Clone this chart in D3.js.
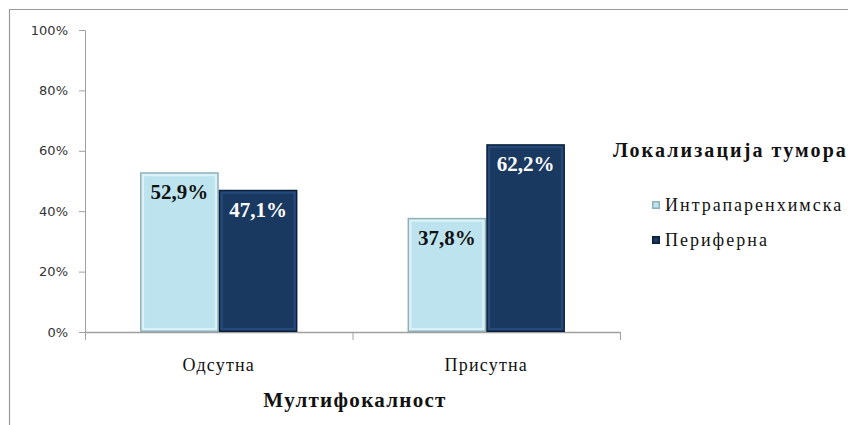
<!DOCTYPE html>
<html>
<head>
<meta charset="utf-8">
<script src="https://cdn.jsdelivr.net/npm/d3@7"></script>
<style>
  html, body { margin: 0; padding: 0; background: #fff; }
  svg { display: block; }
  .serif { font-family: "Liberation Serif", "Tinos", "DejaVu Serif", serif; }
  .sans { font-family: "DejaVu Sans", Verdana, sans-serif; }
</style>
</head>
<body>
<svg id="chart" width="848" height="425"></svg>
<script>
// Data
const categories = ["Одсутна", "Присутна"];
const seriesNames = ["Интрапаренхимска", "Периферна"];
const intraValues = [52.9, 37.8];
const periValues = [47.1, 62.2];
const yTicks = [0, 20, 40, 60, 80, 100];
const xTitle = "Мултифокалност";
const legendTitle = "Локализација тумора";

const svg = d3.select("#chart");
const W = 848, H = 425;

// Frame around the chart area
svg.append("path")
  .attr("d", `M9.5,${H} L9.5,9.5 L${W},9.5`)
  .attr("fill", "none").attr("stroke", "#9a9a9a").attr("stroke-width", 1.2);

const plot = { left: 85, right: 620, top: 30, bottom: 332 };

const x0 = d3.scaleBand().domain(categories).range([plot.left, plot.right]).paddingInner(0).paddingOuter(0);
const x1 = d3.scaleBand().domain(seriesNames).range([0, x0.bandwidth()]).paddingInner(0).paddingOuter(0.7);
const y = d3.scaleLinear().domain([0, 100]).range([plot.bottom, plot.top]);

const axisColor = "#a0a0a0";

// Y axis
const yAxis = d3.axisLeft(y).tickValues(yTicks).tickFormat(d => d + "%").tickSizeInner(6).tickSizeOuter(0).tickPadding(11);
const gy = svg.append("g").attr("transform", `translate(${plot.left},0)`).call(yAxis);
gy.attr("font-family", null).attr("font-size", null);
gy.select(".domain").attr("stroke", axisColor);
gy.selectAll(".tick line").attr("stroke", axisColor);
gy.selectAll(".tick text").attr("class", "sans").attr("fill", "#333").attr("font-size", 13);

// X axis: ticks sit between categories
const gx = svg.append("g").attr("transform", `translate(0,${plot.bottom})`);
gx.append("line").attr("x1", plot.left).attr("x2", plot.right).attr("y1", 0.5).attr("y2", 0.5).attr("stroke", axisColor).attr("stroke-width", 1.5);
const bounds = [plot.left].concat(categories.map(c => x0(c) + x0.bandwidth()));
gx.selectAll(".sep").data(bounds).join("line")
  .attr("x1", d => d + 0.5).attr("x2", d => d + 0.5).attr("y1", 0).attr("y2", 8)
  .attr("stroke", axisColor);
gx.selectAll(".cat").data(categories).join("text")
  .attr("class", "serif")
  .attr("x", d => x0(d) + x0.bandwidth() / 2)
  .attr("y", 39)
  .attr("text-anchor", "middle")
  .attr("font-size", 18).attr("letter-spacing", 1.2).attr("fill", "#111")
  .text(d => d);

// Axis title
svg.append("text").attr("class", "serif").attr("x", 355).attr("y", 407).attr("text-anchor", "middle")
  .attr("font-size", 21).attr("font-weight", "bold").attr("letter-spacing", 1.3).attr("fill", "#111")
  .text(xTitle);

// Bars with bevelled look
const styles = {
  "Интрапаренхимска": { edge: "#8eb0ba", inner: "#bde4ee", hi: "#d9f1f7", label: "#111" },
  "Периферна": { edge: "#0c1f38", inner: "#1a3961", hi: "#24497a", label: "#fff" }
};
const rows = categories.map((c, i) => ({ cat: c, vals: [
  { s: seriesNames[0], v: intraValues[i] },
  { s: seriesNames[1], v: periValues[i] }
]}));

const groups = svg.selectAll(".grp").data(rows).join("g")
  .attr("transform", d => `translate(${x0(d.cat)},0)`);

groups.each(function(d) {
  const g = d3.select(this);
  d.vals.forEach(b => {
    const st = styles[b.s];
    const bx = x1(b.s), bw = x1.bandwidth();
    const by = y(b.v), bh = y(0) - y(b.v);
    g.append("rect").attr("x", bx).attr("y", by).attr("width", bw).attr("height", bh).attr("fill", st.edge);
    g.append("rect").attr("x", bx + 1.5).attr("y", by + 1.5).attr("width", bw - 3).attr("height", bh - 3).attr("fill", st.hi);
    g.append("rect").attr("x", bx + 4).attr("y", by + 4).attr("width", bw - 8).attr("height", bh - 8).attr("fill", st.inner);
    g.append("text").attr("class", "serif")
      .attr("x", bx + bw / 2).attr("y", by + 27)
      .attr("text-anchor", "middle")
      .attr("font-size", 21).attr("font-weight", "bold")
      .attr("fill", st.label)
      .text(String(b.v.toFixed(1)).replace(".", ",") + "%");
  });
});

// Legend
svg.append("text").attr("class", "serif").attr("x", 613).attr("y", 157)
  .attr("font-size", 20).attr("font-weight", "bold").attr("letter-spacing", 2.1).attr("fill", "#111")
  .text(legendTitle);
const leg = svg.selectAll(".leg").data(seriesNames).join("g")
  .attr("transform", (d, i) => `translate(652,${201 + i * 35})`);
leg.append("rect").attr("width", 8).attr("height", 8).attr("fill", d => styles[d].edge);
leg.append("rect").attr("x", 1.5).attr("y", 1.5).attr("width", 5).attr("height", 5).attr("fill", d => styles[d].inner);
leg.append("text").attr("class", "serif").attr("x", 13).attr("y", 10)
  .attr("font-size", 18).attr("letter-spacing", 2).attr("fill", "#111")
  .text(d => d);
</script>
</body>
</html>
